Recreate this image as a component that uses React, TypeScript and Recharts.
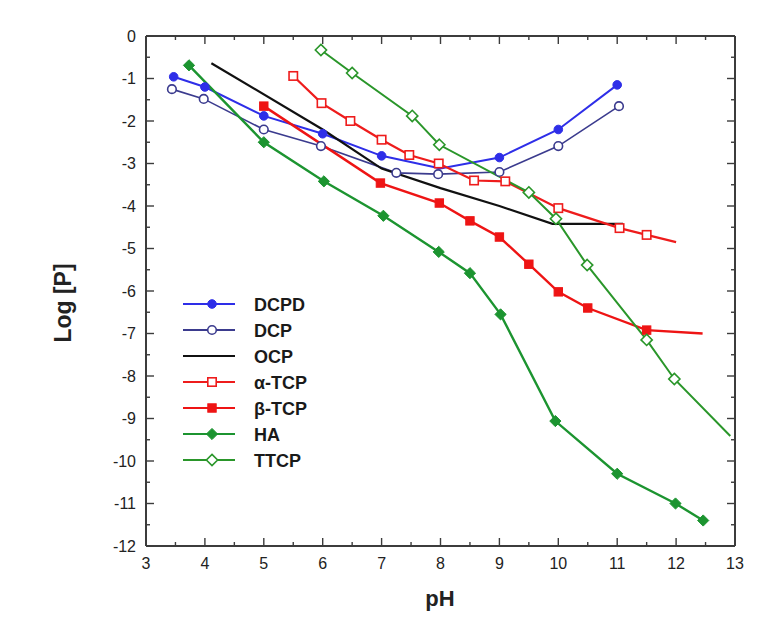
import React from 'react';
import { LineChart, Line, XAxis, YAxis } from 'recharts';

// [pH, log P, marker?] — third entry 0 means the point carries no marker
type Pt = number[];

const DCPD: Pt[] = [
  [3.47, -0.96], [4.0, -1.2], [5.0, -1.88], [6.0, -2.3], [7.0, -2.82],
  [8.0, -3.12, 0], [9.0, -2.86], [10.0, -2.2], [11.0, -1.15],
];
const DCP: Pt[] = [
  [3.44, -1.25], [3.98, -1.48], [5.0, -2.2], [5.97, -2.59], [7.25, -3.22],
  [7.96, -3.25], [9.0, -3.2], [10.0, -2.59], [11.03, -1.65],
];
const OCP: Pt[] = [
  [4.11, -0.64], [6.0, -2.2], [7.0, -3.12], [8.0, -3.58], [9.0, -4.0],
  [9.9, -4.42], [11.1, -4.42],
];
const A_TCP: Pt[] = [
  [5.5, -0.94], [5.98, -1.58], [6.47, -2.0], [7.0, -2.44], [7.47, -2.8],
  [7.97, -3.0], [8.57, -3.4], [9.1, -3.42], [10.0, -4.05], [11.04, -4.52],
  [11.5, -4.68], [12.0, -4.85, 0],
];
const B_TCP: Pt[] = [
  [5.0, -1.65], [6.98, -3.46], [7.98, -3.93], [8.5, -4.35], [9.0, -4.73],
  [9.5, -5.37], [10.0, -6.02], [10.5, -6.4], [11.5, -6.92], [12.45, -7.0, 0],
];
const HA: Pt[] = [
  [3.73, -0.69], [5.0, -2.5], [6.02, -3.42], [7.03, -4.23], [7.97, -5.08],
  [8.5, -5.58], [9.02, -6.55], [9.95, -9.06], [11.0, -10.3], [11.99, -11.0],
  [12.46, -11.4],
];
const TTCP: Pt[] = [
  [5.97, -0.33], [6.5, -0.87], [7.52, -1.88], [7.98, -2.56], [9.5, -3.68],
  [9.96, -4.3], [10.49, -5.39], [11.5, -7.15], [11.97, -8.07], [12.92, -9.41, 0],
];

// axis range corners, used only to hang the top / right frame axes on
const FRAME: Pt[] = [[3, -12], [13, 0]];

const X_TICKS = [3, 3.5, 4, 4.5, 5, 5.5, 6, 6.5, 7, 7.5, 8, 8.5, 9, 9.5, 10, 10.5, 11, 11.5, 12, 12.5, 13];
const Y_TICKS = [
  0, -0.5, -1, -1.5, -2, -2.5, -3, -3.5, -4, -4.5, -5, -5.5, -6, -6.5,
  -7, -7.5, -8, -8.5, -9, -9.5, -10, -10.5, -11, -11.5, -12,
];

const FONT = 'Liberation Sans, Arial, sans-serif';
const AXIS = '#3c3c3c';
const INK = '#222';

type Shape = 'circle' | 'ocircle' | 'square' | 'osquare' | 'diamond' | 'odiamond' | null;

interface Series {
  name: string;
  pts: Pt[];
  color: string;
  width: number;
  shape: Shape;
}

const SERIES: Series[] = [
  { name: 'DCPD', pts: DCPD, color: '#2e2ee8', width: 2, shape: 'circle' },
  { name: 'DCP', pts: DCP, color: '#3b3b8e', width: 1.6, shape: 'ocircle' },
  { name: 'OCP', pts: OCP, color: '#111111', width: 2.2, shape: null },
  { name: 'α-TCP', pts: A_TCP, color: '#ee1c1c', width: 2.2, shape: 'osquare' },
  { name: 'β-TCP', pts: B_TCP, color: '#ee1414', width: 2.4, shape: 'square' },
  { name: 'HA', pts: HA, color: '#1c9430', width: 2.4, shape: 'diamond' },
  { name: 'TTCP', pts: TTCP, color: '#2a962a', width: 2, shape: 'odiamond' },
];

function marker(shape: Shape, x: number, y: number, color: string, key?: React.Key) {
  if (!shape || x == null || y == null) return <g key={key} />;
  const open = shape.startsWith('o');
  const fill = open ? '#ffffff' : color;
  const sw = open ? 1.6 : 1;
  if (shape === 'circle' || shape === 'ocircle') {
    return <circle key={key} cx={x} cy={y} r={4.3} fill={fill} stroke={color} strokeWidth={sw} />;
  }
  if (shape === 'square' || shape === 'osquare') {
    const h = 4.2;
    return <rect key={key} x={x - h} y={y - h} width={2 * h} height={2 * h} fill={fill} stroke={color} strokeWidth={sw} />;
  }
  const d = 5.6;
  return (
    <polygon
      key={key}
      points={`${x},${y - d} ${x + d},${y} ${x},${y + d} ${x - d},${y}`}
      fill={fill}
      stroke={color}
      strokeWidth={sw}
    />
  );
}

// inward tick marks on all four sides, labels on bottom / left only
const xTick = (side: 'top' | 'bottom') => (p: any) => {
  const v = p.payload.value;
  const major = Number.isInteger(v);
  const len = major ? 8 : 4;
  const dir = side === 'bottom' ? -1 : 1;
  return (
    <g>
      <line x1={p.x} y1={p.y} x2={p.x} y2={p.y + dir * len} stroke={AXIS} strokeWidth={1.4} />
      {side === 'bottom' && major && (
        <text x={p.x} y={p.y + 23} textAnchor="middle" fontSize={16} fontFamily={FONT} fill={INK}>
          {String(v)}
        </text>
      )}
    </g>
  );
};

const yTick = (side: 'left' | 'right') => (p: any) => {
  const v = p.payload.value;
  const major = Number.isInteger(v);
  const len = major ? 8 : 4;
  const dir = side === 'left' ? 1 : -1;
  return (
    <g>
      <line x1={p.x} y1={p.y} x2={p.x + dir * len} y2={p.y} stroke={AXIS} strokeWidth={1.4} />
      {side === 'left' && major && (
        <text x={p.x - 10} y={p.y + 5.5} textAnchor="end" fontSize={16} fontFamily={FONT} fill={INK}>
          {String(v)}
        </text>
      )}
    </g>
  );
};

// legend block, drawn under the chart surface at the reference's spot
function LegendBox() {
  return (
    <g transform="translate(172 284)">
      {SERIES.map((s, i) => {
        const y = 12 + i * 26;
        return (
          <g key={s.name}>
            <line x1={3} x2={55} y1={y} y2={y} stroke={s.color} strokeWidth={2} />
            {marker(s.shape, 32, y, s.color)}
            <text x={74} y={y + 6.5} fontSize={18} fontWeight="bold" fontFamily={FONT} fill="#1a1a1a">
              {s.name}
            </text>
          </g>
        );
      })}
    </g>
  );
}

const toRows = (pts: Pt[]) => pts.map((p) => ({ pH: p[0], v: p[1], m: p[2] !== 0 }));

export default function App() {
  return (
    <div style={{ position: 'relative', width: 744, height: 609 }}>
      <svg width={744} height={609} style={{ position: 'absolute', left: 0, top: 0 }}>
        <text
          x={55}
          y={295}
          transform="rotate(-90 55 295)"
          textAnchor="middle"
          dominantBaseline="central"
          fontSize={23}
          fontWeight="bold"
          fontFamily={FONT}
          fill={INK}
        >
          Log [P]
        </text>
        <text x={432} y={598} textAnchor="middle" fontSize={22} fontWeight="bold" fontFamily={FONT} fill={INK}>
          pH
        </text>
        <LegendBox />
      </svg>
      <LineChart width={744} height={609} margin={{ top: 27, right: 16, left: 0, bottom: 0 }}>
        <XAxis
          xAxisId="b"
          dataKey="pH"
          type="number"
          domain={[3, 13]}
          ticks={X_TICKS}
          interval={0}
          height={71}
          tickSize={0}
          tickMargin={0}
          axisLine={{ stroke: AXIS, strokeWidth: 2 }}
          tick={xTick('bottom')}
        />
        <XAxis
          xAxisId="t"
          orientation="top"
          dataKey="pH"
          type="number"
          domain={[3, 13]}
          ticks={X_TICKS}
          interval={0}
          height={1}
          tickSize={0}
          tickMargin={0}
          axisLine={{ stroke: AXIS, strokeWidth: 2 }}
          tick={xTick('top')}
        />
        <YAxis
          yAxisId="l"
          type="number"
          domain={[-12, 0]}
          ticks={Y_TICKS}
          interval={0}
          width={138}
          tickSize={0}
          tickMargin={0}
          axisLine={{ stroke: AXIS, strokeWidth: 2 }}
          tick={yTick('left')}
        />
        <YAxis
          yAxisId="r"
          orientation="right"
          type="number"
          domain={[-12, 0]}
          ticks={Y_TICKS}
          interval={0}
          width={1}
          tickSize={0}
          tickMargin={0}
          axisLine={{ stroke: AXIS, strokeWidth: 2 }}
          tick={yTick('right')}
        />
        <Line
          xAxisId="t"
          yAxisId="r"
          data={toRows(FRAME)}
          dataKey="v"
          stroke="none"
          dot={false}
          activeDot={false}
          legendType="none"
          isAnimationActive={false}
        />
        {SERIES.map((s) => (
          <Line
            key={s.name}
            xAxisId="b"
            yAxisId="l"
            data={toRows(s.pts)}
            dataKey="v"
            name={s.name}
            type="linear"
            stroke={s.color}
            strokeWidth={s.width}
            dot={(p: any) =>
              p.payload && p.payload.m
                ? marker(s.shape, p.cx, p.cy, s.color, `${s.name}-${p.index}`)
                : <g key={`${s.name}-${p.index}`} />
            }
            activeDot={false}
            legendType="none"
            isAnimationActive={false}
          />
        ))}
      </LineChart>
    </div>
  );
}
